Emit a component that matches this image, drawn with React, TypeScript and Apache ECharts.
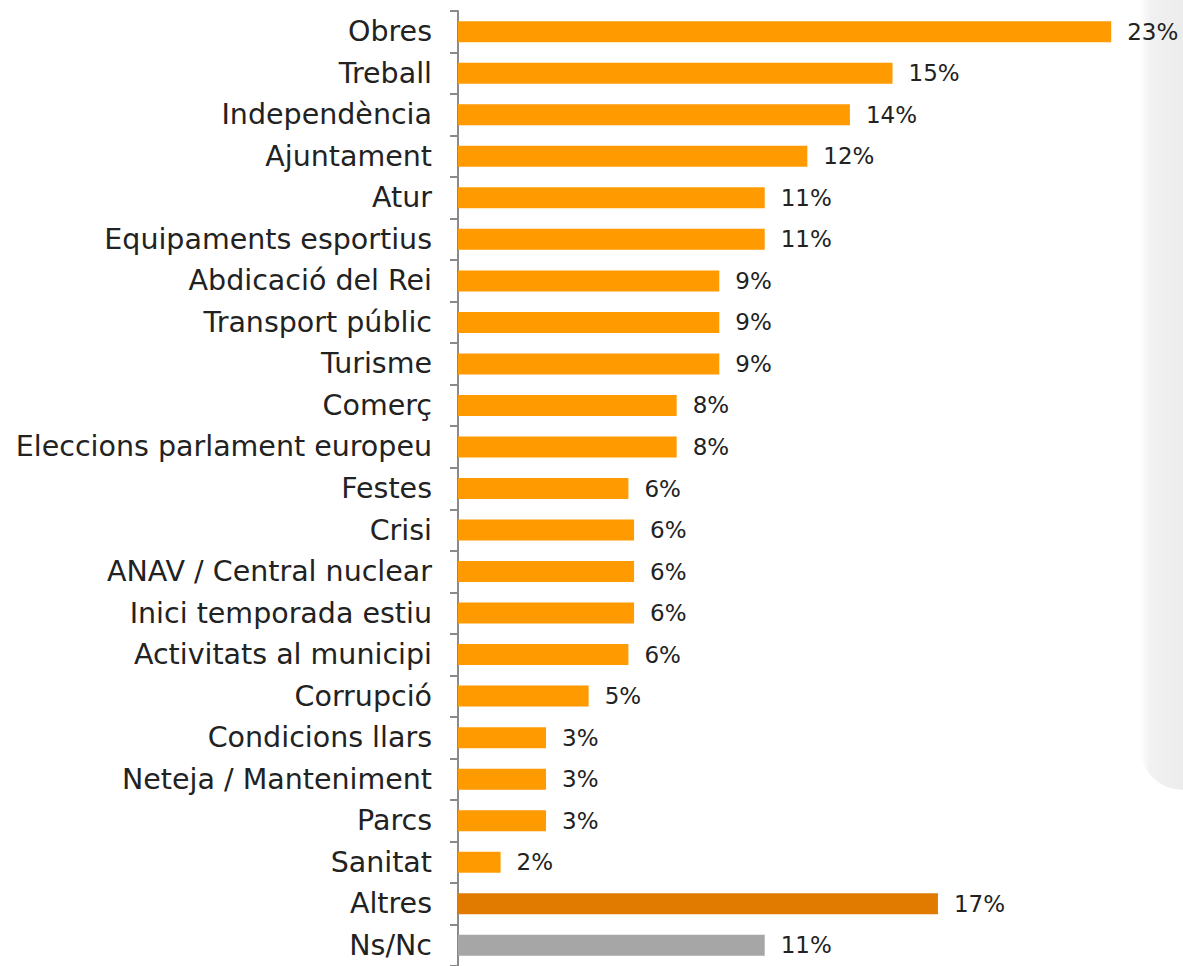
import React, { useEffect, useRef } from "react";
import * as echarts from "echarts";

const categories = [
  "Obres", "Treball", "Independència", "Ajuntament", "Atur", "Equipaments esportius",
  "Abdicació del Rei", "Transport públic", "Turisme", "Comerç", "Eleccions parlament europeu",
  "Festes", "Crisi", "ANAV / Central nuclear", "Inici temporada estiu", "Activitats al municipi",
  "Corrupció", "Condicions llars", "Neteja / Manteniment", "Parcs", "Sanitat", "Altres", "Ns/Nc",
];
const values = [
  23.0, 15.3, 13.8, 12.3, 10.8, 10.8, 9.2, 9.2, 9.2, 7.7, 7.7, 6.0, 6.2, 6.2, 6.2, 6.0,
  4.6, 3.1, 3.1, 3.1, 1.5, 16.9, 10.8,
];
const valueLabels = [
  "23%", "15%", "14%", "12%", "11%", "11%", "9%", "9%", "9%", "8%", "8%", "6%", "6%", "6%",
  "6%", "6%", "5%", "3%", "3%", "3%", "2%", "17%", "11%",
];
const barColors: Record<string, string> = { Altres: "#E07B00", "Ns/Nc": "#A6A6A6" };
const defaultColor = "#FF9A00";

export default function App() {
  const ref = useRef<HTMLDivElement>(null);
  useEffect(() => {
    document.body.style.margin = "0";
    const chart = echarts.init(ref.current!, null, { renderer: "svg" });
    const font = "'DejaVu Sans', sans-serif";
    chart.setOption({
      animation: false,
      backgroundColor: "#ffffff",
      graphic: [
        {
          type: "rect",
          z: -10,
          shape: { x: 1140, y: 0, width: 43, height: 790, r: [0, 0, 0, 60] },
          style: {
            fill: new echarts.graphic.LinearGradient(0, 0, 1, 0, [
              { offset: 0, color: "rgba(240,240,240,0)" },
              { offset: 0.25, color: "rgba(240,240,240,0.9)" },
              { offset: 1, color: "rgba(236,236,236,1)" },
            ]),
          },
          silent: true,
        },
      ],
      grid: { left: 458, top: 11, height: 958, right: 15 },
      xAxis: { type: "value", min: 0, max: 25, show: false },
      yAxis: {
        type: "category",
        data: categories,
        inverse: true,
        axisLine: { show: true, lineStyle: { color: "#8a8a8a", width: 2 } },
        axisTick: { show: true, length: 8, lineStyle: { color: "#8a8a8a", width: 2 } },
        axisLabel: { color: "#222222", fontSize: 28.5, fontFamily: font, margin: 26 },
        splitLine: { show: false },
      },
      series: [
        {
          type: "bar",
          data: values.map((v, i) => ({
            value: v,
            itemStyle: { color: barColors[categories[i]] || defaultColor },
          })),
          barWidth: 21,
          label: {
            show: true,
            position: "right",
            distance: 16,
            color: "#222222",
            fontSize: 23,
            fontFamily: font,
            formatter: (p: any) => valueLabels[p.dataIndex],
          },
        },
      ],
    });
    return () => chart.dispose();
  }, []);
  return <div ref={ref} style={{ width: 1183, height: 966 }} />;
}
